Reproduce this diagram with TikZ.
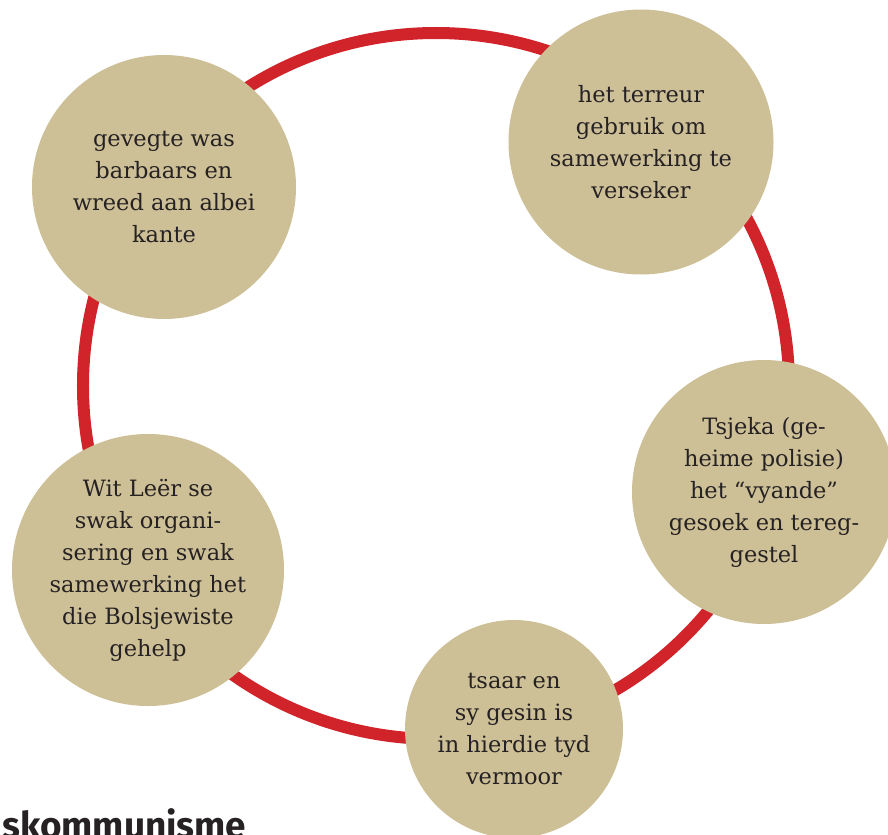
\documentclass[tikz,border=0pt]{standalone}
\usepackage{fontspec}
\setmainfont{DejaVu Serif}
\newfontfamily\headfont{Fira Sans}
\usepackage{tikz}
\definecolor{ringred}{HTML}{D1232A}
\definecolor{sand}{HTML}{CDBF96}
\definecolor{ink}{HTML}{262223}

\begin{document}
\begin{tikzpicture}[
        bal/.style={circle, fill=sand, inner sep=0pt, align=center, text=ink,
                    font=\fontsize{12.8}{18.2}\selectfont},
        ring/.style={draw=ringred, line width=0.24cm}]
                    \clip (-8.72,-8.96) rectangle (9.04,7.72);
                    \coordinate (o) at (0,0);
                    \draw[ring] (o) circle (7.06);

                    \node[bal, minimum size=5.28cm] (a) at (-5.44,3.98) {gevegte was\\barbaars en\\wreed aan albei\\kante};
                    \node[bal, minimum size=5.3cm] (b) at (4.10,4.88) {het terreur\\gebruik om\\samewerking te\\verseker};
                    \node[bal, minimum size=5.28cm] (c) at (6.56,-2.12) {Tsjeka (ge-\\heime polisie)\\het “vyande”\\gesoek en tereg-\\gestel};
                    \node[bal, minimum size=4.36cm] (d) at (1.56,-6.86) {tsaar en\\sy gesin is\\in hierdie tyd\\vermoor};
                    \node[bal, minimum size=5.44cm] (e) at (-5.76,-3.68) {Wit Leër se\\swak organi-\\sering en swak\\samewerking het\\die Bolsjewiste\\gehelp};

                    \node[anchor=base west, inner sep=0pt, text=ink, font=\headfont\bfseries\fontsize{21}{24}\selectfont] (t) at (-8.68,-9.04) {skommunisme};
                \end{tikzpicture}
\end{document}
